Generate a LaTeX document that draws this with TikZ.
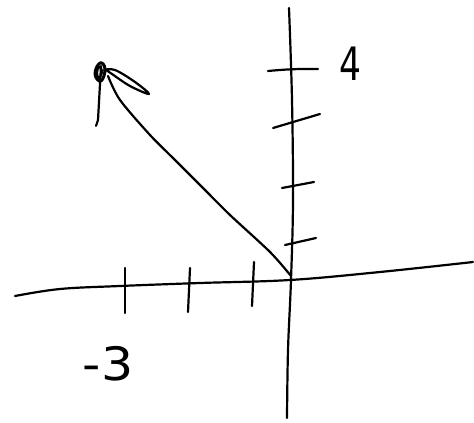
\documentclass[tikz,border=0pt]{standalone}
\usepackage{fontspec}
\setmainfont{DejaVu Sans}
\begin{document}
\begin{tikzpicture}[x=1pt,y=-1pt,
  ink/.style={line width=2.2pt,line cap=round,line join=round,black},
  lbl/.style={inner sep=0pt,font=\fontsize{46}{46}\selectfont}]
\useasboundingbox (0,0) rectangle (474,423);
% axes
\draw[ink] plot[smooth,tension=0.6] coordinates {(15,296) (60,289) (120,286) (200,283) (290,280) (380,272) (473,262)};
\draw[ink] plot[smooth,tension=0.6] coordinates {(289,8) (292,100) (293,200) (291,280) (288,350) (287,418)};
% x ticks
\draw[ink] (125,268) -- (125,313);
\draw[ink] (190,268) -- (188,312);
\draw[ink] (254,262) -- (252,306);
% y ticks
\draw[ink] (268,71) to[bend left=3] (318,69);
\draw[ink] (273,128) -- (320,114);
\draw[ink] (282,188) -- (314,182);
\draw[ink] (285,245) -- (316,238);
% vector
\coordinate (O) at (291,276);
\coordinate (P) at (106,72);
\draw[ink] plot[smooth,tension=0.5] coordinates {(291,276) (270,252) (230,215) (205,190) (175,160) (150,135) (120,100) (108,76)};
% hand arrowhead
\draw[ink,line width=3pt] plot[smooth cycle,tension=0.8] coordinates {(100,63) (105,69) (101,81) (95,74)};
\draw[ink] plot[smooth cycle,tension=0.8] coordinates {(99,67) (102,71) (99,78) (97,73)};
\draw[ink] (101,66) -- (98,120) -- (96,126);
\draw[ink] plot[smooth,tension=0.6] coordinates {(104,70) (115,70) (135,82) (149,94) (130,86) (112,74) (106,70)};
% labels
\node[lbl,xscale=0.75] (four) at (350,64) {4};
\node[lbl,xscale=1.1] (mthree) at (108,364) {-3};
\end{tikzpicture}
\end{document}
